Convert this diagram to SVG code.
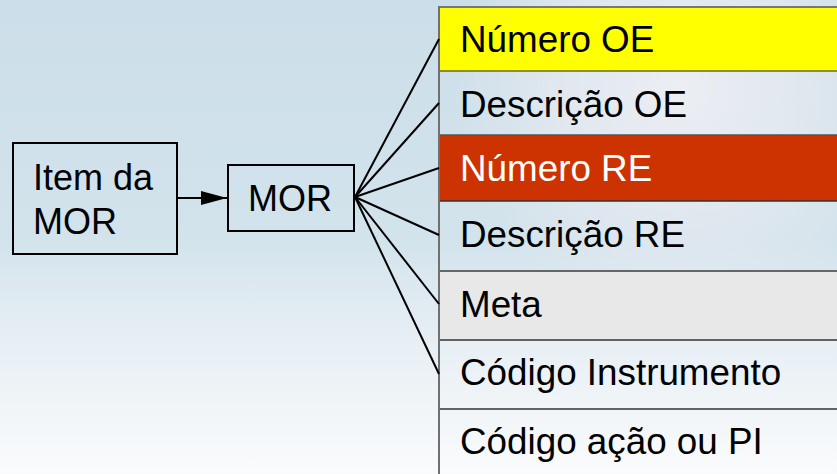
<svg xmlns="http://www.w3.org/2000/svg" width="837" height="474" viewBox="0 0 837 474">
<defs>
<linearGradient id="bg" x1="0" y1="0" x2="0" y2="1">
<stop offset="0" stop-color="#CCDEE9"/>
<stop offset="0.5" stop-color="#D2E3EC"/>
<stop offset="0.7" stop-color="#E6EEF4"/>
<stop offset="1" stop-color="#FAFBFC"/>
</linearGradient>
<radialGradient id="glow" cx="680" cy="90" r="230" gradientUnits="userSpaceOnUse">
<stop offset="0" stop-color="#ECEEF3" stop-opacity="1"/>
<stop offset="0.55" stop-color="#E4E9F0" stop-opacity="0.8"/>
<stop offset="1" stop-color="#E4E9F0" stop-opacity="0"/>
</radialGradient>
<marker id="arr" viewBox="0 0 26 14" refX="26" refY="7" markerWidth="26" markerHeight="14" markerUnits="userSpaceOnUse" orient="auto">
<path d="M0,0 L26,7 L0,14 z" fill="#000"/>
</marker>
</defs>
<style>
.box{fill:none;stroke:#000;stroke-width:2}
.t{font-family:"Liberation Sans",Arial,sans-serif;font-size:36px;fill:#000}
.tt{font-family:"Liberation Sans",Arial,sans-serif;font-size:36.8px;fill:#000}
.tw{font-family:"Liberation Sans",Arial,sans-serif;font-size:36.8px;fill:#fff}
.con{stroke:#000;stroke-width:2;fill:none}
</style>
<rect x="0" y="0" width="837" height="474" fill="url(#bg)"/>
<rect x="380" y="0" width="457" height="300" fill="url(#glow)"/>

<g id="item-da-mor">
<rect class="box" x="13" y="143" width="164" height="111"/>
<text class="t" x="33" y="190">Item da</text>
<text class="t" x="33" y="234">MOR</text>
</g>

<g id="mor">
<rect class="box" x="228" y="165" width="126" height="66"/>
<text class="t" x="248" y="211">MOR</text>
</g>

<g id="table">
<g id="row-numero-oe">
<rect x="439" y="7" width="398" height="64" fill="#FFFF00"/>
<text class="tt" x="460" y="52">Número OE</text>
</g>
<g id="row-descricao-oe">
<text class="tt" x="460" y="117">Descrição OE</text>
</g>
<g id="row-numero-re">
<rect x="439" y="135" width="398" height="66" fill="#CC3300"/>
<text class="tw" x="460" y="181">Número RE</text>
</g>
<g id="row-descricao-re">
<text class="tt" x="460" y="247">Descrição RE</text>
</g>
<g id="row-meta">
<rect x="439" y="271" width="398" height="69" fill="#E8E8E8"/>
<text class="tt" x="460" y="317">Meta</text>
</g>
<g id="row-codigo-instrumento">
<text class="tt" x="460" y="385">Código Instrumento</text>
</g>
<g id="row-codigo-acao">
<text class="tt" x="460" y="454">Código ação ou PI</text>
</g>
<line x1="439" y1="7" x2="837" y2="7" stroke="#777" stroke-width="2"/>
<line x1="439" y1="71" x2="837" y2="71" stroke="#6E6A20" stroke-width="1.5"/>
<line x1="439" y1="135" x2="837" y2="135" stroke="#555" stroke-width="1.5"/>
<line x1="439" y1="201" x2="837" y2="201" stroke="#333" stroke-width="1.5"/>
<line x1="439" y1="271" x2="837" y2="271" stroke="#666" stroke-width="2"/>
<line x1="439" y1="340" x2="837" y2="340" stroke="#333" stroke-width="1.5"/>
<line x1="439" y1="409" x2="837" y2="409" stroke="#333" stroke-width="1.5"/>
<line x1="439" y1="6" x2="439" y2="474" stroke="#707070" stroke-width="2"/>
</g>

<g id="connectors">
<line class="con" x1="177" y1="198" x2="227" y2="198" marker-end="url(#arr)"/>
<line class="con" x1="355" y1="197" x2="439" y2="39"/>
<line class="con" x1="355" y1="197" x2="439" y2="103"/>
<line class="con" x1="355" y1="197" x2="439" y2="168"/>
<line class="con" x1="355" y1="197" x2="439" y2="235"/>
<line class="con" x1="355" y1="197" x2="439" y2="304"/>
<line class="con" x1="355" y1="197" x2="439" y2="374"/>
</g>
</svg>
